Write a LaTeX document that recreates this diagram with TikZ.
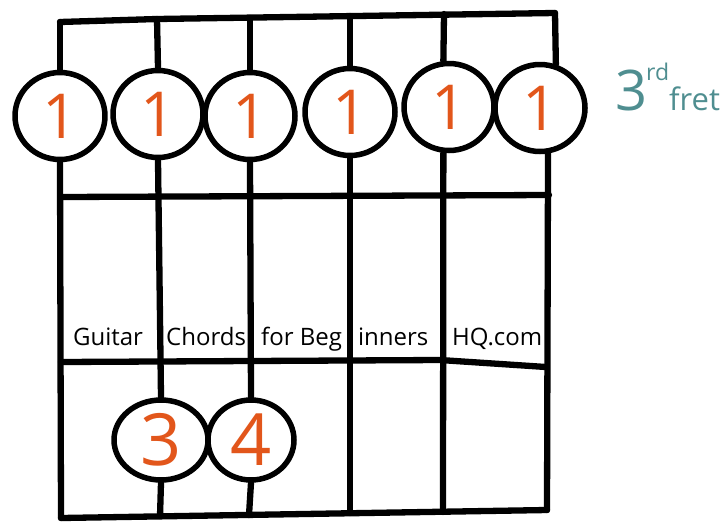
\documentclass[tikz,border=0pt]{standalone}
\usepackage{fontspec}
\setmainfont{Open Sans}
\usepackage{tikz}
\usetikzlibrary{shapes.geometric}
\definecolor{fingerorange}{HTML}{E2561B}
\definecolor{fretteal}{HTML}{4F8E90}

\begin{document}
\begin{tikzpicture}[x=1pt, y=-1pt, line width=6.3pt, line cap=round, line join=round,
    every node/.style={font=\fontsize{24}{24}\selectfont},
    finger/.style={ellipse, draw, line width=5.5pt, fill=white, inner sep=0pt,
      minimum width=90pt, minimum height=87pt, text=fingerorange,
      font=\fontsize{62}{62}\selectfont},
    lowfinger/.style={finger, minimum height=80pt, font=\fontsize{72}{72}\selectfont},
    celltext/.style={anchor=base west, inner sep=0pt},
    fretnote/.style={anchor=base west, inner sep=0pt, text=fretteal}]
  \useasboundingbox (0,0) rectangle (722,523);

  % top of the neck and the string ends
  \coordinate (t1) at (60,22);
  \coordinate (t2) at (157,19);
  \coordinate (t3) at (250,18);
  \coordinate (t4) at (350,16);
  \coordinate (t5) at (444,14);
  \coordinate (t6) at (555,13);
  \coordinate (b1) at (61,518);
  \coordinate (b2) at (160,516);
  \coordinate (b3) at (249,515);
  \coordinate (b4) at (350,513);
  \coordinate (b5) at (443,512);
  \coordinate (b6) at (547,510);

  % frets
  \coordinate (fa1) at (61,197);
  \coordinate (fa2) at (549,195);
  \coordinate (fb1) at (61,362);
  \coordinate (fb2) at (440,360);
  \coordinate (fb3) at (546,367);

  \draw (t1) -- (t2) -- (t6);
  \draw (fa1) -- (fa2);
  \draw (fb1) -- (fb2) -- (fb3);
  \draw (b1) -- (b6);

  % barre on the 3rd fret
  \node[finger] (s1) at (60,116) {1};
  \node[finger] (s2) at (158,114) {1};
  \node[finger] (s3) at (250,116) {1};
  \node[finger] (s4) at (350,112) {1};
  \node[finger] (s5) at (449,107) {1};
  \node[finger] (s6) at (540,108) {1};

  % two fingers further down
  \node[lowfinger, minimum width=94pt] (n3) at (161,440) {3};
  \node[lowfinger, minimum width=86pt] (n4) at (251,440) {4};

  \draw (t1) -- (s1.north);
  \draw (t2) -- (s2.north);
  \draw (t3) -- (s3.north);
  \draw (t4) -- (s4.north);
  \draw (t5) -- (s5.97);
  \draw (t6) -- (s6.70);
  \draw (s1.south) -- (b1);
  \draw (s2.south) -- (n3.north);
  \draw (n3.south) -- (b2);
  \draw (s3.south) -- (n4.north);
  \draw (n4.south) -- (b3);
  \draw (s4.south) -- (b4);
  \draw (s5.-97) -- (b5);
  \draw (s6.-80) -- (b6);

  \node[celltext] (g1) at (70,345) {Guitar};
  \node[celltext] (g2) at (163,345) {Chords};
  \node[celltext] (g3) at (258,345) {for Beg};
  \node[celltext] (g4) at (355,345) {inners};
  \node[celltext] (g5) at (449,345) {HQ.com};

  \node[fretnote, font=\fontsize{56}{56}\selectfont] (fr3) at (612,110) {3};
  \node[fretnote, font=\fontsize{23}{23}\selectfont] (frd) at (643,80) {rd};
  \node[fretnote, font=\fontsize{31}{31}\selectfont] (ffret) at (666,110) {fret};
\end{tikzpicture}
\end{document}
